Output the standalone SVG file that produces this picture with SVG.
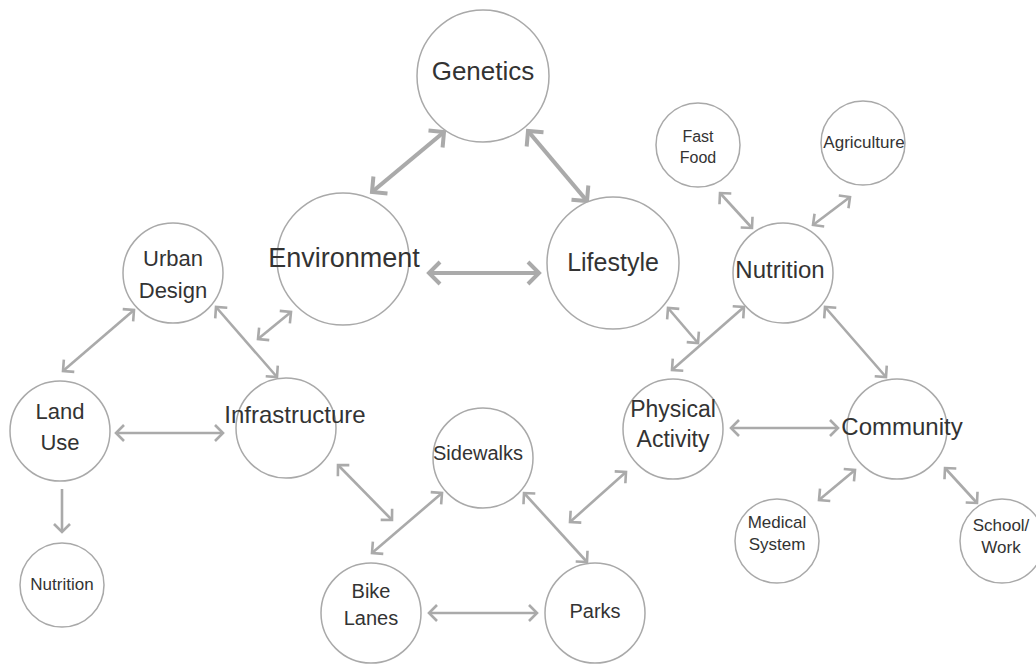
<svg xmlns="http://www.w3.org/2000/svg" width="1036" height="664" viewBox="0 0 1036 664">
<style>
.n{fill:#fff;stroke:#a9a9a9;stroke-width:1.5}
text{font-family:"Liberation Sans",Arial,sans-serif;fill:#333;text-anchor:middle}
.c{fill:none;stroke:#aaa;stroke-width:2.6;stroke-linecap:butt}
.t{stroke-width:4.2}
.c1{marker-start:url(#h);marker-end:url(#h)}
.c2{marker-start:url(#H);marker-end:url(#H)}
</style>
<defs>
<marker id="h" viewBox="-15 -15 30 30" markerWidth="30" markerHeight="30" refX="0" refY="0" markerUnits="userSpaceOnUse" orient="auto-start-reverse" overflow="visible">
<path d="M-8,-8 L0,0 L-8,8" fill="none" stroke="#aaa" stroke-width="2.6"/>
</marker>
<marker id="H" viewBox="-15 -15 30 30" markerWidth="30" markerHeight="30" refX="0" refY="0" markerUnits="userSpaceOnUse" orient="auto-start-reverse" overflow="visible">
<path d="M-11,-11 L0,0 L-11,11" fill="none" stroke="#aaa" stroke-width="4"/>
</marker>
</defs>
<rect width="1036" height="664" fill="#fff"/>
<g id="connectors">
<line class="c t c2" x1="444" y1="132" x2="372" y2="192"/>
<line class="c t c2" x1="528" y1="131" x2="587" y2="201"/>
<line class="c t c2" x1="429" y1="273" x2="539" y2="273"/>
<line class="c c1" x1="291" y1="312" x2="258" y2="339"/>
<line class="c c1" x1="134" y1="310" x2="63" y2="371"/>
<line class="c c1" x1="216" y1="307" x2="277" y2="377"/>
<line class="c c1" x1="116" y1="433" x2="223" y2="433"/>
<line class="c" x1="62" y1="489" x2="62" y2="532" style="marker-end:url(#h)"/>
<line class="c c1" x1="338" y1="465" x2="392" y2="520"/>
<line class="c c1" x1="442" y1="493" x2="372" y2="553"/>
<line class="c c1" x1="524" y1="493" x2="587" y2="562"/>
<line class="c c1" x1="429" y1="613" x2="537" y2="613"/>
<line class="c c1" x1="626" y1="472" x2="570" y2="522"/>
<line class="c c1" x1="668" y1="308" x2="698" y2="343"/>
<line class="c c1" x1="672" y1="370" x2="744" y2="307"/>
<line class="c c1" x1="825" y1="307" x2="886" y2="377"/>
<line class="c c1" x1="731" y1="428" x2="838" y2="428"/>
<line class="c c1" x1="855" y1="470" x2="819" y2="500"/>
<line class="c c1" x1="945" y1="468" x2="977" y2="503"/>
<line class="c c1" x1="720" y1="193" x2="752" y2="228"/>
<line class="c c1" x1="850" y1="197" x2="813" y2="225"/>
</g>
<g id="genetics"><circle class="n" cx="483" cy="76" r="66"/><text x="483" y="80" font-size="26">Genetics</text></g>
<g id="environment"><circle class="n" cx="343" cy="259" r="66"/><text x="344" y="267" font-size="27">Environment</text></g>
<g id="lifestyle"><circle class="n" cx="613" cy="263" r="66"/><text x="613" y="271" font-size="25">Lifestyle</text></g>
<g id="fast-food"><circle class="n" cx="698" cy="145" r="42"/><text x="698" y="142" font-size="16">Fast</text><text x="698" y="163" font-size="16">Food</text></g>
<g id="agriculture"><circle class="n" cx="863" cy="143" r="42"/><text x="864" y="148" font-size="17">Agriculture</text></g>
<g id="nutrition"><circle class="n" cx="783" cy="273" r="50"/><text x="780" y="278" font-size="24">Nutrition</text></g>
<g id="urban-design"><circle class="n" cx="173" cy="273" r="50"/><text x="173" y="266" font-size="22">Urban</text><text x="173" y="298" font-size="22">Design</text></g>
<g id="land-use"><circle class="n" cx="60" cy="431" r="50"/><text x="60" y="419" font-size="22">Land</text><text x="60" y="450" font-size="22">Use</text></g>
<g id="infrastructure"><circle class="n" cx="286" cy="428" r="50"/><text x="295" y="423" font-size="24">Infrastructure</text></g>
<g id="nutrition-small"><circle class="n" cx="62" cy="585" r="42"/><text x="62" y="590" font-size="17">Nutrition</text></g>
<g id="sidewalks"><circle class="n" cx="483" cy="458" r="50"/><text x="478" y="460" font-size="20">Sidewalks</text></g>
<g id="bike-lanes"><circle class="n" cx="371" cy="613" r="50"/><text x="371" y="598" font-size="20">Bike</text><text x="371" y="625" font-size="20">Lanes</text></g>
<g id="parks"><circle class="n" cx="595" cy="613" r="50"/><text x="595" y="618" font-size="20">Parks</text></g>
<g id="physical-activity"><circle class="n" cx="673" cy="429" r="50"/><text x="673" y="417" font-size="23">Physical</text><text x="673" y="447" font-size="23">Activity</text></g>
<g id="community"><circle class="n" cx="897" cy="429" r="50"/><text x="902" y="435" font-size="24">Community</text></g>
<g id="medical-system"><circle class="n" cx="777" cy="541" r="42"/><text x="777" y="528" font-size="17">Medical</text><text x="777" y="550" font-size="17">System</text></g>
<g id="school-work"><circle class="n" cx="1002" cy="541" r="42"/><text x="1001" y="531" font-size="17">School/</text><text x="1001" y="553" font-size="17">Work</text></g>
</svg>
